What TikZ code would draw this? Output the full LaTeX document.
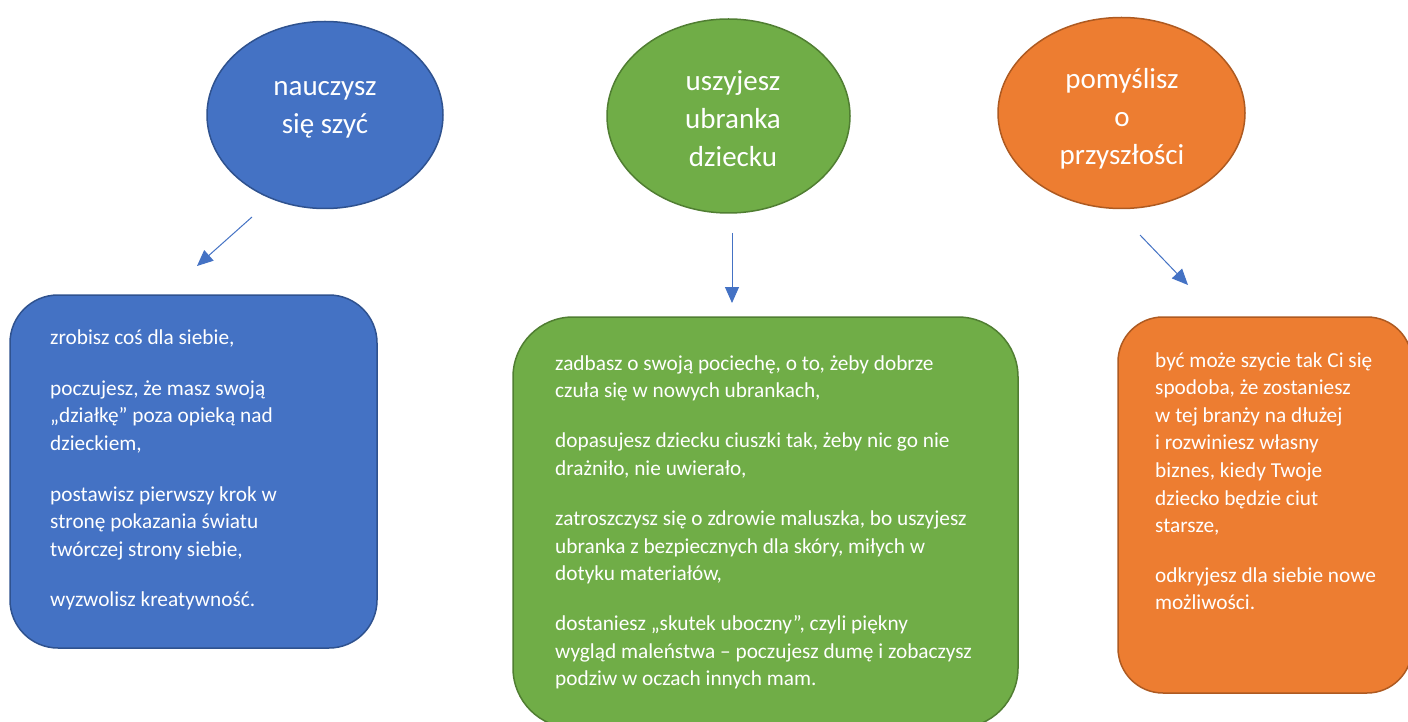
\documentclass[tikz,border=0pt]{standalone}
\usepackage{fontspec}
\setmainfont{Carlito}
\usetikzlibrary{shapes.geometric,arrows.meta}
\definecolor{bluef}{HTML}{4472C4}
\definecolor{blued}{HTML}{2F528F}
\definecolor{greenf}{HTML}{70AD47}
\definecolor{greend}{HTML}{507E32}
\definecolor{orangef}{HTML}{ED7D31}
\definecolor{oranged}{HTML}{AE5A21}
\definecolor{arrowc}{HTML}{4472C4}
\begin{document}
\begin{tikzpicture}[x=1pt,y=-1pt,
  oval/.style={ellipse, draw, line width=1.5pt, inner sep=0pt},
  card/.style={rectangle, draw, line width=1.5pt, inner sep=0pt},
  ovaltext/.style={text=white, align=center, inner sep=0pt, font=\fontsize{29}{38}\selectfont},
  cardtext/.style={text=white, align=left, inner sep=0pt, anchor=north west, font=\fontsize{21.3}{27.6}\selectfont},
  link/.style={draw=arrowc, line width=1pt, -{Triangle[length=16pt,width=14pt]}}
]
\useasboundingbox (0,0) rectangle (1408,722);
\fill[white] (0,0) rectangle (1408,722);

% ellipses
\node[oval, fill=bluef, draw=blued, minimum width=236pt, minimum height=187pt] (e1) at (325,115) {};
\node[oval, fill=greenf, draw=greend, minimum width=243pt, minimum height=194pt] (e2) at (728.5,116) {};
\node[oval, fill=orangef, draw=oranged, minimum width=247pt, minimum height=191pt] (e3) at (1121.5,113) {};

\node[ovaltext] (t1) at (325,107) {\strut nauczysz\\\strut się szyć};
\node[ovaltext] (t2) at (733,121.2) {\strut uszyjesz\\\strut ubranka\\\strut dziecku};
\node[ovaltext] (t3) at (1122,118.5) {\strut pomyślisz\\\strut o\\\strut przyszłości};

% boxes
\node[card, fill=bluef, draw=blued, rounded corners=48pt, minimum width=367pt, minimum height=353pt] (b1) at (193.5,471.5) {};
\node[card, fill=greenf, draw=greend, rounded corners=60pt, minimum width=505pt, minimum height=411pt] (b2) at (765.5,522.5) {};
\node[card, fill=orangef, draw=oranged, rounded corners=45pt, minimum width=294pt, minimum height=376pt] (b3) at (1265,505) {};

\node[cardtext] (p1) at (50,325.2) {\strut zrobisz coś dla siebie,\\[23pt]
poczujesz, że masz swoją\\
„działkę” poza opieką nad\\
dzieckiem,\\[23pt]
postawisz pierwszy krok w\\
stronę pokazania światu\\
twórczej strony siebie,\\[23pt]
wyzwolisz kreatywność.};

\node[cardtext] (p2) at (555,350.5) {\strut zadbasz o swoją pociechę, o to, żeby dobrze\\
czuła się w nowych ubrankach,\\[22.5pt]
dopasujesz dziecku ciuszki tak, żeby nic go nie\\
drażniło, nie uwierało,\\[22.5pt]
zatroszczysz się o zdrowie maluszka, bo uszyjesz\\
ubranka z bezpiecznych dla skóry, miłych w\\
dotyku materiałów,\\[22.5pt]
dostaniesz „skutek uboczny”, czyli piękny\\
wygląd maleństwa – poczujesz dumę i zobaczysz\\
podziw w oczach innych mam.};

\node[cardtext] (p3) at (1155,347.5) {\strut być może szycie tak Ci się\\
spodoba, że zostaniesz\\
w tej branży na dłużej\\
i rozwiniesz własny\\
biznes, kiedy Twoje\\
dziecko będzie ciut\\
starsze,\\[22pt]
odkryjesz dla siebie nowe\\
możliwości.};

% arrows
\coordinate (a1s) at (252,217);
\coordinate (a1e) at (197,266);
\coordinate (a2s) at (732,233);
\coordinate (a2e) at (732,303);
\coordinate (a3s) at (1140,235);
\coordinate (a3e) at (1188,285);
\draw[link] (a1s) -- (a1e);
\draw[link] (a2s) -- (a2e);
\draw[link] (a3s) -- (a3e);
\end{tikzpicture}
\end{document}
